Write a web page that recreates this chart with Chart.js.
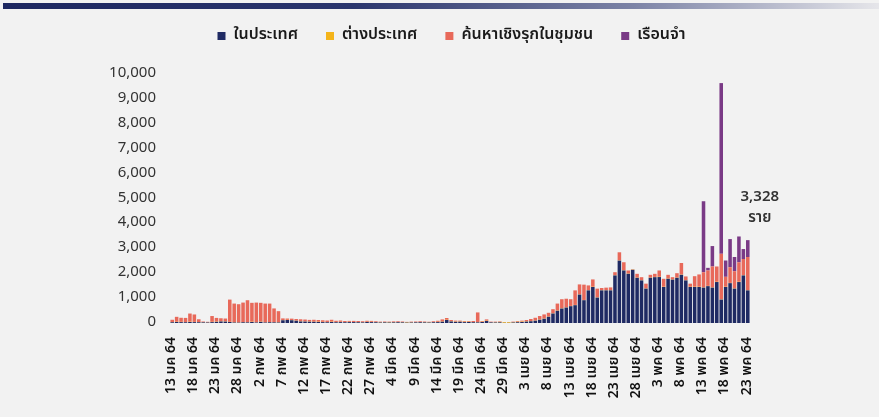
<!DOCTYPE html>
<html lang="th">
<head>
<meta charset="UTF-8">
<title>ผู้ติดเชื้อรายวัน</title>
<script src="https://cdn.jsdelivr.net/npm/chart.js"></script>
<style>
    html, body {
        margin: 0;
        padding: 0;
        background: #f2f2f2;
    }
    .topbar {
        position: absolute;
        left: 3px;
        top: 3px;
        width: 876px;
        height: 6px;
        background: linear-gradient(to right, #1d2760 0%, #2a356d 40%, #7c83a6 72%, #e6e6ea 100%);
    }
    .wrap {
        position: relative;
        width: 879px;
        height: 417px;
    }
</style>
</head>
<body>
<div class="wrap">
    <div class="topbar"></div>
    <canvas id="cases" width="879" height="417"></canvas>
</div>
<script>
// daily categories, 13 Jan - 23 May 2021 (BE 2564)
const days = [
    '13 มค 64','14 มค 64','15 มค 64','16 มค 64','17 มค 64','18 มค 64','19 มค 64','20 มค 64','21 มค 64','22 มค 64',
    '23 มค 64','24 มค 64','25 มค 64','26 มค 64','27 มค 64','28 มค 64','29 มค 64','30 มค 64','31 มค 64',
    '1 กพ 64','2 กพ 64','3 กพ 64','4 กพ 64','5 กพ 64','6 กพ 64','7 กพ 64','8 กพ 64','9 กพ 64','10 กพ 64',
    '11 กพ 64','12 กพ 64','13 กพ 64','14 กพ 64','15 กพ 64','16 กพ 64','17 กพ 64','18 กพ 64','19 กพ 64','20 กพ 64',
    '21 กพ 64','22 กพ 64','23 กพ 64','24 กพ 64','25 กพ 64','26 กพ 64','27 กพ 64','28 กพ 64',
    '1 มีค 64','2 มีค 64','3 มีค 64','4 มีค 64','5 มีค 64','6 มีค 64','7 มีค 64','8 มีค 64','9 มีค 64','10 มีค 64',
    '11 มีค 64','12 มีค 64','13 มีค 64','14 มีค 64','15 มีค 64','16 มีค 64','17 มีค 64','18 มีค 64','19 มีค 64','20 มีค 64',
    '21 มีค 64','22 มีค 64','23 มีค 64','24 มีค 64','25 มีค 64','26 มีค 64','27 มีค 64','28 มีค 64','29 มีค 64','30 มีค 64','31 มีค 64',
    '1 เมย 64','2 เมย 64','3 เมย 64','4 เมย 64','5 เมย 64','6 เมย 64','7 เมย 64','8 เมย 64','9 เมย 64','10 เมย 64',
    '11 เมย 64','12 เมย 64','13 เมย 64','14 เมย 64','15 เมย 64','16 เมย 64','17 เมย 64','18 เมย 64','19 เมย 64','20 เมย 64',
    '21 เมย 64','22 เมย 64','23 เมย 64','24 เมย 64','25 เมย 64','26 เมย 64','27 เมย 64','28 เมย 64','29 เมย 64','30 เมย 64',
    '1 พค 64','2 พค 64','3 พค 64','4 พค 64','5 พค 64','6 พค 64','7 พค 64','8 พค 64','9 พค 64','10 พค 64',
    '11 พค 64','12 พค 64','13 พค 64','14 พค 64','15 พค 64','16 พค 64','17 พค 64','18 พค 64','19 พค 64','20 พค 64',
    '21 พค 64','22 พค 64','23 พค 64'
];

// only these dates get a tick label
const tickLabels = [
    '13 มค 64','18 มค 64','23 มค 64','28 มค 64','2 กพ 64','7 กพ 64','12 กพ 64','17 กพ 64','22 กพ 64',
    '27 กพ 64','4 มีค 64','9 มีค 64','14 มีค 64','19 มีค 64','24 มีค 64','29 มีค 64','3 เมย 64','8 เมย 64',
    '13 เมย 64','18 เมย 64','23 เมย 64','28 เมย 64','3 พค 64','8 พค 64','13 พค 64','18 พค 64','23 พค 64'
];

const yTicks = [0, 1000, 2000, 3000, 4000, 5000, 6000, 7000, 8000, 9000, 10000];

// ในประเทศ
const domestic = [
    30,40,35,30,40,35,30,25,20,35, 45,60,55,40,20,15,30,25,40,
    20,45,20,30,25,20,110,120,110,90, 60,55,50,45,40,35,30,40,30,35, 30,35,35,30,25,40,35,30,
    20,25,20,25,30,25,15,20,25,30, 25,20,30,35,50,120,60,45,50,35, 40,30,25,40,80,25,20,25,5,5,20,
    30,40,55,70,90,130,170,250,380,490, 580,620,675,715,1140,915,1310,1445,1020,1310,
    1310,1310,1910,2505,2110,1975,2135,1815,1710,1380,
    1815,1840,1845,1445,1775,1740,1815,1935,1710,1445,
    1445,1445,1420,1480,1420,1645,940,1445,1600,1380, 1645,1910,1310
];

// ต่างประเทศ
const imported = [
    10,8,10,5,10,8,10,10,8,10, 10,5,10,5,10,5,10,5,10,
    5,10,5,10,5,10,10,5,10,8, 10,5,10,5,10,10,5,10,8,10, 5,10,5,10,10,5,10,10,
    15,15,20,15,10,15,20,15,10,10, 15,15,10,10,10,10,10,10,10,15, 10,10,10,10,10,10,15,20,30,30,20,
    20,15,15,10,10,10,10,10,10,10, 10,10,10,10,10,10,10,10,10,10,
    10,10,10,10,10,10,10,10,10,10,
    10,10,10,10,10,10,10,10,10,10,
    10,10,10,10,10,10,10,10,10,10, 10,10,10
];

// ค้นหาเชิงรุกในชุมชน
const activeSearch = [
    90,200,165,170,330,300,110,25,20,235, 150,125,115,895,750,735,780,885,760,
    795,755,755,740,555,445,65,55,55,62, 80,80,65,80,70,65,65,80,52,55, 45,40,45,40,35,45,40,30,
    20,20,15,25,30,20,10,20,25,30, 20,15,30,45,85,70,50,40,35,30, 30,40,390,30,55,20,20,20,5,5,15,
    30,40,50,80,110,140,165,150,165,280, 365,345,270,585,400,615,190,295,350,85,
    100,110,120,325,320,125,15,150,120,190,
    110,125,255,320,150,90,175,465,150,125,
    425,495,610,620,840,615,1830,400,630,690, 785,650,1330
];

// เรือนจำ
const prison = [
    0,0,0,0,0,0,0,0,0,0, 0,0,0,0,0,0,0,0,0,
    0,0,0,0,0,0,0,0,0,0, 0,0,0,0,0,0,0,0,0,0, 0,0,0,0,0,0,0,0,
    0,0,0,0,0,0,0,0,0,0, 0,0,0,0,0,0,0,0,0,0, 0,0,0,0,0,0,0,0,0,0,0,
    0,0,0,0,0,0,0,0,0,0, 0,0,0,0,0,0,0,0,0,0,
    0,0,0,0,0,0,0,0,0,0,
    0,0,0,0,0,0,0,0,0,0,
    0,0,2850,105,820,0,6855,655,1130,570, 1035,400,678
];

const thaiFont = 'Tahoma, "Noto Sans Thai", "Noto Sans", "DejaVu Sans", sans-serif';

// extra room between the legend and the plot
const legendGap = {
    id: 'legendGap',
    beforeInit(chart) {
        const fit = chart.legend.fit;
        chart.legend.fit = function () {
            fit.call(this);
            this.height += 20;
        };
    }
};

const lastLabel = {
    id: 'lastLabel',
    afterDatasetsDraw(chart) {
        const ctx = chart.ctx;
        const i = days.length - 1;
        const total = domestic[i] + imported[i] + activeSearch[i] + prison[i];
        const x = chart.scales.x.getPixelForValue(i) + 12;
        const y = chart.scales.y.getPixelForValue(total);
        ctx.save();
        ctx.fillStyle = '#333';
        ctx.font = '600 15px ' + thaiFont;
        ctx.textAlign = 'center';
        ctx.textBaseline = 'middle';
        ctx.fillText(total.toLocaleString('en-US'), x, y - 42);
        ctx.fillText('ราย', x, y - 21);
        ctx.restore();
    }
};

const ctx = document.getElementById('cases').getContext('2d');
new Chart(ctx, {
    type: 'bar',
    data: {
        labels: days,
        datasets: [
            { label: 'ในประเทศ', data: domestic, backgroundColor: '#1f2a63' },
            { label: 'ต่างประเทศ', data: imported, backgroundColor: '#f4b41a' },
            { label: 'ค้นหาเชิงรุกในชุมชน', data: activeSearch, backgroundColor: '#e8695a' },
            { label: 'เรือนจำ', data: prison, backgroundColor: '#7a3a86' }
        ]
    },
    options: {
        responsive: false,
        animation: false,
        layout: { padding: { left: 24, right: 0, top: 0, bottom: 0 } },
        datasets: {
            bar: { categoryPercentage: 1, barPercentage: 0.8 }
        },
        plugins: {
            legend: {
                position: 'top',
                labels: {
                    boxWidth: 8,
                    boxHeight: 8,
                    padding: 28,
                    color: '#1a1a1a',
                    font: { family: thaiFont, size: 16, weight: '600' }
                }
            },
            tooltip: { enabled: false }
        },
        scales: {
            x: {
                stacked: true,
                grid: { display: false },
                border: { display: false },
                afterFit(scale) { scale.height = 94; },
                ticks: {
                    autoSkip: false,
                    maxRotation: 90,
                    minRotation: 90,
                    padding: 6,
                    color: '#111',
                    font: { family: thaiFont, size: 14, weight: '600' },
                    callback(value) {
                        const d = days[value];
                        return tickLabels.includes(d) ? d : null;
                    }
                }
            },
            y: {
                stacked: true,
                min: 0,
                max: 10000,
                grid: { display: false },
                border: { display: false },
                afterFit(scale) { scale.width = 146; },
                afterBuildTicks(scale) {
                    scale.ticks = yTicks.map(v => ({ value: v }));
                },
                ticks: {
                    padding: 6,
                    color: '#333',
                    font: { family: thaiFont, size: 15 },
                    callback: v => v.toLocaleString('en-US')
                }
            },
            // empty right-hand strip, keeps the legend centred on the full width
            pad: {
                position: 'right',
                display: true,
                grid: { display: false },
                border: { display: false },
                ticks: { display: false },
                afterFit(scale) { scale.width = 129; }
            }
        }
    },
    plugins: [legendGap, lastLabel]
});
</script>
</body>
</html>
